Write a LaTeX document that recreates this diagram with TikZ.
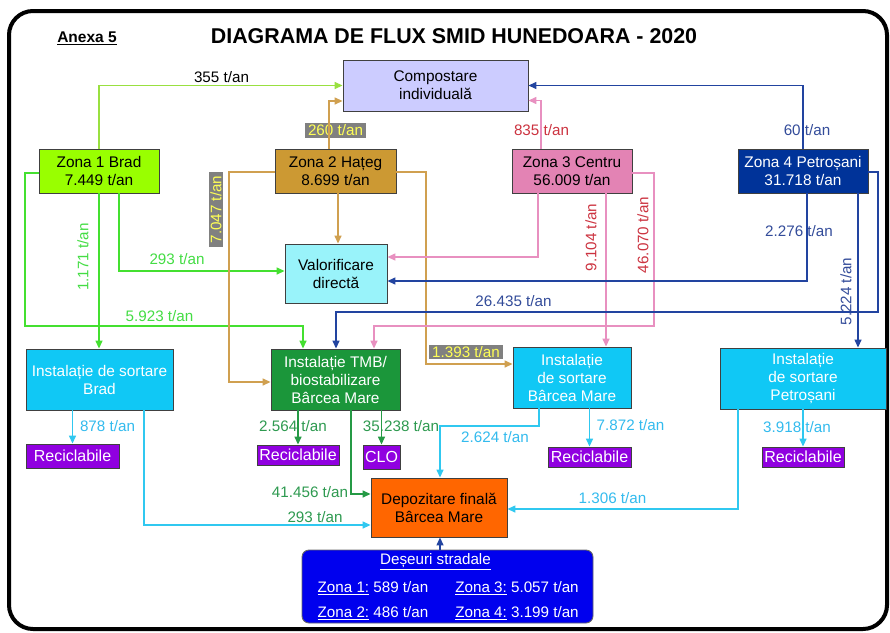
\documentclass[tikz,border=0pt]{standalone}
\usepackage{fontspec}
\setmainfont{Liberation Sans}
\usetikzlibrary{arrows.meta}
\definecolor{cLime}{HTML}{99FF00}
\definecolor{cTan}{HTML}{CC9933}
\definecolor{cPink}{HTML}{E383B4}
\definecolor{cNavy}{HTML}{003399}
\definecolor{cLav}{HTML}{CCCCFF}
\definecolor{cVal}{HTML}{99F3FA}
\definecolor{cSort}{HTML}{10C8F5}
\definecolor{cTmb}{HTML}{1B963A}
\definecolor{cPurp}{HTML}{9000E0}
\definecolor{cOrg}{HTML}{FF6600}
\definecolor{cDes}{HTML}{0000EE}
\definecolor{lGreen}{HTML}{44E030}
\definecolor{lLime}{HTML}{99E040}
\definecolor{lTan}{HTML}{D0A050}
\definecolor{lPink}{HTML}{E890C0}
\definecolor{lNavy}{HTML}{2244A0}
\definecolor{lCyan}{HTML}{30C8F0}
\definecolor{lDgreen}{HTML}{259A45}
\definecolor{tRed}{HTML}{CC3340}
\definecolor{tBlue}{HTML}{334C9A}
\definecolor{tGreen}{HTML}{44DD44}
\definecolor{tCyan}{HTML}{33BBEE}
\definecolor{tDgreen}{HTML}{2E9A50}
\definecolor{tYel}{HTML}{FFFF55}
\definecolor{gBg}{HTML}{808080}
\newcommand{\myfs}{\fontsize{15.2}{17}\selectfont}
\newcommand{\myfb}{\fontsize{15.4}{18}\selectfont}
\tikzset{
  bx/.style={draw=black!75, line width=0.9pt, inner sep=0pt, align=center, font=\myfb},
  rec/.style={bx, fill=cPurp, text=white, font=\fontsize{16}{18}\selectfont},
  lbl/.style={inner sep=0pt, font=\myfs},
  glbl/.style={inner xsep=3.5pt, inner ysep=1.5pt, font=\myfs, fill=gBg, text=tYel},
  con/.style={line width=1.4pt, -{Triangle[length=8pt,width=7pt]}},
}
\begin{document}
\begin{tikzpicture}[x=1pt,y=-1pt]
\useasboundingbox (0,0) rectangle (890,632);
\fill[white] (0,0) rectangle (890,632);
\draw[line width=4pt, rounded corners=24pt] (9,11) rectangle (887,629);

% title
\node[inner sep=0pt, font=\fontsize{21.4}{24}\selectfont\bfseries] (title) at (454,36) {DIAGRAMA DE FLUX SMID HUNEDOARA - 2020};
\node[inner sep=0pt, font=\fontsize{15.5}{17}\selectfont\bfseries] (anexa) at (87,38) {\underline{Anexa 5}};

% nodes
\node[bx, fill=cLav, minimum width=185pt, minimum height=51pt] (comp) at (435.5,85.5) {Compostare\\individuală};
\node[bx, fill=cLime, minimum width=120pt, minimum height=44pt] (z1) at (99,171) {Zona 1 Brad\\7.449 t/an};
\node[bx, fill=cTan, minimum width=121pt, minimum height=44pt] (z2) at (335.5,171) {Zona 2 Hațeg\\8.699 t/an};
\node[bx, fill=cPink, minimum width=120pt, minimum height=44pt] (z3) at (572,171) {Zona 3 Centru\\56.009 t/an};
\node[bx, fill=cNavy, text=white, minimum width=130pt, minimum height=44pt] (z4) at (803,171) {Zona 4 Petroșani\\31.718 t/an};
\node[bx, fill=cVal, minimum width=102pt, minimum height=59pt] (val) at (336,273.5) {Valorificare\\directă};
\node[bx, fill=cSort, text=white, minimum width=147pt, minimum height=61pt] (sb) at (99.5,379.5) {Instalație de sortare\\Brad};
\node[bx, fill=cTmb, text=white, minimum width=129pt, minimum height=61pt] (tmb) at (335.5,379.5) {Instalație TMB/\\biostabilizare\\Bârcea Mare};
\node[bx, fill=cSort, text=white, minimum width=118pt, minimum height=61pt] (sbm) at (572,377.5) {Instalație\\de sortare\\Bârcea Mare};
\node[bx, fill=cSort, text=white, minimum width=166pt, minimum height=61pt] (sp) at (803,378.5) {Instalație\\de sortare\\Petroșani};
\node[rec, minimum width=93pt, minimum height=24pt] (r1) at (72.5,456) {Reciclabile};
\node[rec, minimum width=82pt, minimum height=20pt] (r2) at (298,455) {Reciclabile};
\node[rec, minimum width=37pt, minimum height=24pt] (clo) at (381.5,457) {CLO};
\node[rec, minimum width=83pt, minimum height=20pt] (r3) at (589.5,457) {Reciclabile};
\node[rec, minimum width=82pt, minimum height=20pt] (r4) at (803,457) {Reciclabile};
\node[bx, fill=cOrg, minimum width=136pt, minimum height=59pt] (dep) at (439,507.5) {Depozitare finală\\Bârcea Mare};
\node[draw=black!60, line width=0.9pt, fill=cDes, rounded corners=7pt, minimum width=291pt, minimum height=73pt] (des) at (447.5,586.5) {};
\node[lbl, text=white] (desT) at (435.5,562) {\underline{Deșeuri stradale}};
\node[lbl, text=white] (d1) at (373,588) {\underline{Zona 1:} 589 t/an};
\node[lbl, text=white] (d3) at (517,588) {\underline{Zona 3:} 5.057 t/an};
\node[lbl, text=white] (d2) at (373,613) {\underline{Zona 2:} 486 t/an};
\node[lbl, text=white] (d4) at (517,613) {\underline{Zona 4:} 3.199 t/an};

% labels
\node[lbl] (L355) at (221.5,77) {355 t/an};
\node[glbl] (L260) at (335.5,130.5) {260 t/an};
\node[lbl, text=tRed] (L835) at (541.5,130) {835 t/an};
\node[lbl, text=tBlue] (L60) at (807,130) {60 t/an};
\node[lbl, text=tGreen] (L293a) at (177,259) {293 t/an};
\node[lbl, text=tGreen] (L5923) at (159.5,316) {5.923 t/an};
\node[lbl, text=tGreen, rotate=90] (L1171) at (83,257) {1.171 t/an};
\node[glbl, rotate=90] (L7047) at (216,209.5) {7.047 t/an};
\node[glbl] (L1393) at (466,352) {1.393 t/an};
\node[lbl, text=tRed, rotate=90] (L9104) at (591,237.5) {9.104 t/an};
\node[lbl, text=tRed, rotate=90] (L46070) at (643,235) {46.070 t/an};
\node[lbl, text=tBlue] (L2276) at (799,231) {2.276 t/an};
\node[lbl, text=tBlue] (L26435) at (513.5,301) {26.435 t/an};
\node[lbl, text=tBlue, rotate=90] (L5224) at (846,291.5) {5.224 t/an};
\node[lbl, text=tCyan] (L878) at (107.5,426) {878 t/an};
\node[lbl, text=tDgreen] (L2564) at (293,426) {2.564 t/an};
\node[lbl, text=tDgreen] (L35238) at (401,426) {35.238 t/an};
\node[lbl, text=tDgreen] (L41456) at (310,492) {41.456 t/an};
\node[lbl, text=tDgreen] (L293b) at (315,517) {293 t/an};
\node[lbl, text=tCyan] (L2624) at (495,437) {2.624 t/an};
\node[lbl, text=tCyan] (L7872) at (630.5,425) {7.872 t/an};
\node[lbl, text=tCyan] (L3918) at (797,427) {3.918 t/an};
\node[lbl, text=tCyan] (L1306) at (612.5,498) {1.306 t/an};

% connectors Zona 1
\draw[con, lLime] (z1.north) |- (comp.west);
\draw[con, lGreen] ([xshift=20pt]z1.south) |- ([yshift=2.5pt]val.west);
\draw[con, lGreen] ([yshift=-2pt]z1.west) -| (25,326) -| ([xshift=-32.5pt]tmb.north);
\draw[con, lGreen] (z1.south) -- (z1.south |- sb.north);
% Zona 2
\draw[con, lTan] ([xshift=-6.5pt]z2.north) |- ([yshift=-15.5pt]comp.west);
\draw[con, lTan] ([xshift=2.5pt]z2.south) -- ([xshift=2pt]val.north);
\draw[con, lTan] ([yshift=-1pt]z2.west) -| (229,382) -- ([yshift=-2.5pt]tmb.west);
\draw[con, lTan] ([yshift=-1pt]z2.east) -| (426,364) -- ([yshift=13.5pt]sbm.west);
% Zona 3
\draw[con, lPink] ([xshift=-31pt]z3.north) |- ([yshift=-15pt]comp.east);
\draw[con, lPink] ([xshift=-34pt]z3.south) |- ([yshift=16.5pt]val.east);
\draw[con, lPink] ([xshift=34pt]z3.south) -- ([xshift=34pt]sbm.north);
\draw[con, lPink] ([yshift=-2pt]z3.east) -| (654,326) -| ([xshift=38.5pt]tmb.north);
% Zona 4
\draw[con, lNavy] (z4.north) |- (comp.east);
\draw[con, lNavy] ([xshift=4pt]z4.south) |- ([yshift=-7.5pt]val.east);
\draw[con, lNavy] ([yshift=-1pt]z4.east) -| (878,312) -| ([xshift=0.5pt]tmb.north);
\draw[con, lNavy] ([xshift=55pt]z4.south) -- ([xshift=55pt]sp.north);
% sortare / TMB outputs
\draw[con, lCyan] ([xshift=-27pt]sb.south) -- (r1.north);
\draw[con, lCyan] ([xshift=44.5pt]sb.south) |- ([yshift=-17.5pt]dep.west);
\draw[con, lDgreen] ([xshift=-37.5pt]tmb.south) -- (r2.north);
\draw[con, lDgreen] ([xshift=46pt]tmb.south) -- (clo.north);
\draw[con, lDgreen] ([xshift=15.5pt]tmb.south) |- ([yshift=13.5pt]dep.west);
\draw[con, lCyan] ([xshift=-33pt]sbm.south) |- (440,426) -- ([xshift=1pt]dep.north);
\draw[con, lCyan] ([xshift=17.5pt]sbm.south) -- (r3.north);
\draw[con, lCyan] (sp.south) -- (r4.north);
\draw[con, lCyan] ([xshift=-65pt]sp.south) |- ([yshift=-1.5pt]dep.east);
\draw[con, lNavy] ([xshift=-7.5pt]des.north) -- ([xshift=1pt]dep.south);
\end{tikzpicture}
\end{document}
